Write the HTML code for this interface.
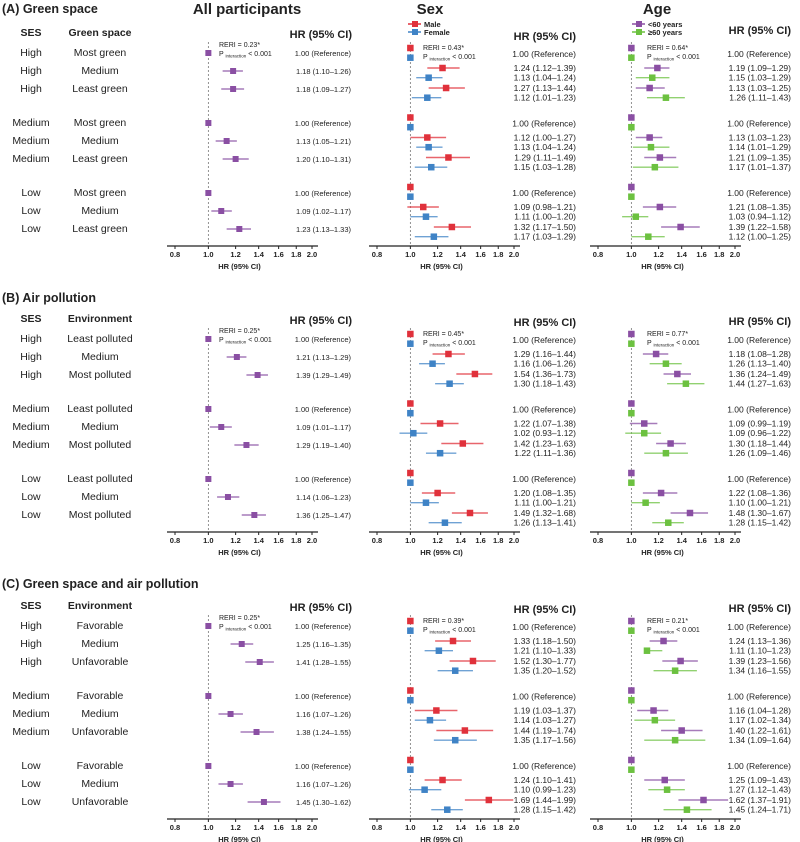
<!DOCTYPE html>
<html><head><meta charset="utf-8"><style>
body{margin:0;background:#fff;width:800px;height:842px;overflow:hidden}
svg{display:block;font-family:"Liberation Sans",sans-serif}
</style></head><body>
<svg id="chart" width="800" height="842" viewBox="0 0 800 842" xmlns="http://www.w3.org/2000/svg"></svg>
<script>
// ---------- data ----------
const sectionTitles = ["(A) Green space","(B) Air pollution","(C) Green space and air pollution"];
const envHeaders = ["Green space","Environment","Environment"];
const sesLabels = ["High","High","High","Medium","Medium","Medium","Low","Low","Low"];
const envLabelsA = ["Most green","Medium","Least green","Most green","Medium","Least green","Most green","Medium","Least green"];
const envLabelsB = ["Least polluted","Medium","Most polluted","Least polluted","Medium","Most polluted","Least polluted","Medium","Most polluted"];
const envLabelsC = ["Favorable","Medium","Unfavorable","Favorable","Medium","Unfavorable","Favorable","Medium","Unfavorable"];
const tickValues = [0.8,1.0,1.2,1.4,1.6,1.8,2.0];
const reriAll = ["0.23","0.25","0.25"];
const reriSex = ["0.43","0.45","0.39"];
const reriAge = ["0.64","0.77","0.21"];
// All participants [hr, lo, hi]
const allA_hr=[1,1.18,1.18,1,1.13,1.20,1,1.09,1.23], allA_lo=[1,1.10,1.09,1,1.05,1.10,1,1.02,1.13], allA_hi=[1,1.26,1.27,1,1.21,1.31,1,1.17,1.33];
const allB_hr=[1,1.21,1.39,1,1.09,1.29,1,1.14,1.36], allB_lo=[1,1.13,1.29,1,1.01,1.19,1,1.06,1.25], allB_hi=[1,1.29,1.49,1,1.17,1.40,1,1.23,1.47];
const allC_hr=[1,1.25,1.41,1,1.16,1.38,1,1.16,1.45], allC_lo=[1,1.16,1.28,1,1.07,1.24,1,1.07,1.30], allC_hi=[1,1.35,1.55,1,1.26,1.55,1,1.26,1.62];
// Sex
const maleA_hr=[1,1.24,1.27,1,1.12,1.29,1,1.09,1.32], maleA_lo=[1,1.12,1.13,1,1.00,1.11,1,0.98,1.17], maleA_hi=[1,1.39,1.44,1,1.27,1.49,1,1.21,1.50];
const femA_hr=[1,1.13,1.12,1,1.13,1.15,1,1.11,1.17], femA_lo=[1,1.04,1.01,1,1.04,1.03,1,1.00,1.03], femA_hi=[1,1.24,1.23,1,1.24,1.28,1,1.20,1.29];
const maleB_hr=[1,1.29,1.54,1,1.22,1.42,1,1.20,1.49], maleB_lo=[1,1.16,1.36,1,1.07,1.23,1,1.08,1.32], maleB_hi=[1,1.44,1.73,1,1.38,1.63,1,1.35,1.68];
const femB_hr=[1,1.16,1.30,1,1.02,1.22,1,1.11,1.26], femB_lo=[1,1.06,1.18,1,0.93,1.11,1,1.00,1.13], femB_hi=[1,1.26,1.43,1,1.12,1.36,1,1.21,1.41];
const maleC_hr=[1,1.33,1.52,1,1.19,1.44,1,1.24,1.69], maleC_lo=[1,1.18,1.30,1,1.03,1.19,1,1.10,1.44], maleC_hi=[1,1.50,1.77,1,1.37,1.74,1,1.41,1.99];
const femC_hr=[1,1.21,1.35,1,1.14,1.35,1,1.10,1.28], femC_lo=[1,1.10,1.20,1,1.03,1.17,1,0.99,1.15], femC_hi=[1,1.33,1.52,1,1.27,1.56,1,1.23,1.42];
// Age
const youngA_hr=[1,1.19,1.13,1,1.13,1.21,1,1.21,1.39], youngA_lo=[1,1.09,1.03,1,1.03,1.09,1,1.08,1.22], youngA_hi=[1,1.29,1.25,1,1.23,1.35,1,1.35,1.58];
const oldA_hr=[1,1.15,1.26,1,1.14,1.17,1,1.03,1.12], oldA_lo=[1,1.03,1.11,1,1.01,1.01,1,0.94,1.00], oldA_hi=[1,1.29,1.43,1,1.29,1.37,1,1.12,1.25];
const youngB_hr=[1,1.18,1.36,1,1.09,1.30,1,1.22,1.48], youngB_lo=[1,1.08,1.24,1,0.99,1.18,1,1.08,1.30], youngB_hi=[1,1.28,1.49,1,1.19,1.44,1,1.36,1.67];
const oldB_hr=[1,1.26,1.44,1,1.09,1.26,1,1.10,1.28], oldB_lo=[1,1.13,1.27,1,0.96,1.09,1,1.00,1.15], oldB_hi=[1,1.40,1.63,1,1.22,1.46,1,1.21,1.42];
const youngC_hr=[1,1.24,1.39,1,1.16,1.40,1,1.25,1.62], youngC_lo=[1,1.13,1.23,1,1.04,1.22,1,1.09,1.37], youngC_hi=[1,1.36,1.56,1,1.28,1.61,1,1.43,1.91];
const oldC_hr=[1,1.11,1.34,1,1.17,1.34,1,1.27,1.45], oldC_lo=[1,1.10,1.16,1,1.02,1.09,1,1.12,1.24], oldC_hi=[1,1.23,1.55,1,1.34,1.64,1,1.43,1.71];

// ---------- drawing ----------
const svg=document.getElementById('chart');
const NS='http://www.w3.org/2000/svg';
function mk(tag,attrs,parent){const e=document.createElementNS(NS,tag);for(const k in attrs)e.setAttribute(k,attrs[k]);(parent||svg).appendChild(e);return e;}
function txt(x,y,s,size,opts,parent){opts=opts||{};const e=mk('text',{x:x,y:y,'font-size':size,'text-anchor':opts.anchor||'start','font-weight':opts.bold?'bold':'normal',fill:'#222'},parent);e.textContent=s;return e;}
const COL={purple:'#8a4fa3',red:'#e0313b',blue:'#3f83c6',green:'#6cc140'};
const panelX0=[175,377,598];
const W=137;
function xs(p,v){return panelX0[p]+(Math.log(v)-Math.log(0.8))/(Math.log(2.0)-Math.log(0.8))*W;}
function fmt(h,l,u){return h===1?'1.00 (Reference)':h.toFixed(2)+' ('+l.toFixed(2)+'\u2013'+u.toFixed(2)+')';}

const offs=[0,286,573];
const titleY=[13,302,588];
const envSets=[envLabelsA,envLabelsB,envLabelsC];
const allSets=[[allA_hr,allA_lo,allA_hi],[allB_hr,allB_lo,allB_hi],[allC_hr,allC_lo,allC_hi]];
const sexSets=[[[maleA_hr,maleA_lo,maleA_hi],[femA_hr,femA_lo,femA_hi]],[[maleB_hr,maleB_lo,maleB_hi],[femB_hr,femB_lo,femB_hi]],[[maleC_hr,maleC_lo,maleC_hi],[femC_hr,femC_lo,femC_hi]]];
const ageSets=[[[youngA_hr,youngA_lo,youngA_hi],[oldA_hr,oldA_lo,oldA_hi]],[[youngB_hr,youngB_lo,youngB_hi],[oldB_hr,oldB_lo,oldB_hi]],[[youngC_hr,youngC_lo,youngC_hi],[oldC_hr,oldC_lo,oldC_hi]]];

// column titles
let t=txt(247,14,'All participants',15,{anchor:'middle',bold:true});


t=txt(430,14,'Sex',15,{anchor:'middle',bold:true});


t=txt(657,14,'Age',15,{anchor:'middle',bold:true});



// legends
function legend(x,y,c,label,name){
  const g=mk('g',{});
  
  
  mk('line',{x1:x,y1:y,x2:x+13,y2:y,stroke:c,'stroke-width':1.5},g);
  mk('rect',{x:x+4,y:y-3,width:6,height:6,fill:c},g);
  txt(x+16,y+3,label,7.5,{bold:true},g);
}
legend(408,24,COL.red,'Male','legend-male');
legend(408,32,COL.blue,'Female','legend-female');
legend(632,24,COL.purple,'<60 years','legend-under-60');
legend(632,32,COL.green,'\u226560 years','legend-60-plus');

function axis(p,yAxis,g){
  const ag=mk('g',{},g);
  
  
  mk('line',{x1:panelX0[p]-8,y1:yAxis,x2:panelX0[p]+W+6,y2:yAxis,stroke:'#222','stroke-width':1.3},ag);
  tickValues.forEach(v=>{
    const x=xs(p,v);
    mk('line',{x1:x,y1:yAxis,x2:x,y2:yAxis+3,stroke:'#222','stroke-width':1},ag);
    txt(x,yAxis+11,v.toFixed(1),7.5,{anchor:'middle',bold:true},ag);
  });
  const lab=txt(panelX0[p]+W/2-4,yAxis+23,'HR  (95% CI)',7.5,{anchor:'middle',bold:true},ag);
  
  
}
function reri(x,y,val,g){
  txt(x,y,'RERI = '+val+'*',7,{},g);
  const p=mk('text',{x:x,y:y+9,'font-size':7,fill:'#222'},g);
  p.textContent='P ';
  const s=mk('tspan',{'font-size':4.5,dy:1.5},p);s.textContent='interaction';
  const s2=mk('tspan',{dy:-1.5},p);s2.textContent=' < 0.001';
}
function mark(p,y,h,l,u,c,sz,g,name){
  const m=mk('g',{},g);
  
  
  if(h!==1||l!==1){
    mk('line',{x1:xs(p,l),y1:y,x2:xs(p,u),y2:y,stroke:c,'stroke-width':1.4,'stroke-opacity':0.75},m);
  }
  mk('rect',{x:xs(p,h)-sz/2,y:y-sz/2,width:sz,height:sz,fill:c},m);
}

for(let s=0;s<3;s++){
  const o=offs[s];
  const sg=mk('g',{});
  
  
  const tt=txt(2,titleY[s],sectionTitles[s],12.5,{bold:true},sg);
  
  
  txt(31,o+36,'SES',10.5,{anchor:'middle',bold:true},sg);
  txt(100,o+36,envHeaders[s],10.5,{anchor:'middle',bold:true},sg);
  txt(352,o+38,'HR (95% CI)',11,{anchor:'end',bold:true},sg);
  txt(576,o+40,'HR (95% CI)',11,{anchor:'end',bold:true},sg);
  txt(791,o+34+(s===0?0:5),'HR (95% CI)',11,{anchor:'end',bold:true},sg);

  // panel 1
  const [hr,lo,hi]=allSets[s];
  const base1=o+53;
  mk('line',{x1:xs(0,1),y1:o+42,x2:xs(0,1),y2:o+245,stroke:'#777','stroke-width':0.8,'stroke-dasharray':'2,2'},sg);
  for(let i=0;i<9;i++){
    const g=Math.floor(i/3),r=i%3;
    const y=base1+g*70+r*18;
    txt(31,y+3,sesLabels[i],10.5,{anchor:'middle'},sg);
    txt(100,y+3,envSets[s][i],10.5,{anchor:'middle'},sg);
    mark(0,y,hr[i],lo[i],hi[i],COL.purple,6,sg,'all-marker');
    txt(351,y+3,fmt(hr[i],lo[i],hi[i]),7.5,{anchor:'end'},sg);
  }
  reri(219,o+47,reriAll[s],sg);
  axis(0,o+246,sg);

  // panels 2 and 3
  [[sexSets[s],1,[COL.red,COL.blue],reriSex[s],423,576,'sex'],[ageSets[s],2,[COL.purple,COL.green],reriAge[s],647,791,'age']].forEach(cfg=>{
    const [sets,p,cols,rv,rx,tx,nm]=cfg;
    const base=o+48;
    mk('line',{x1:xs(p,1),y1:o+42,x2:xs(p,1),y2:o+245,stroke:'#777','stroke-width':0.8,'stroke-dasharray':'2,2'},sg);
    for(let i=0;i<9;i++){
      const g=Math.floor(i/3),r=i%3;
      const y0=base+g*69.5+r*20;
      for(let k=0;k<2;k++){
        const y=y0+k*9.7;
        const d=sets[k];
        mark(p,y,d[0][i],d[1][i],d[2][i],cols[k],6.5,sg,nm+'-marker-'+k);
        if(r>0) txt(tx,y+3,fmt(d[0][i],d[1][i],d[2][i]),8.5,{anchor:'end'},sg);
      }
      if(r===0) txt(tx,y0+9,'1.00 (Reference)',8.5,{anchor:'end'},sg);
    }
    reri(rx,o+50,rv,sg);
    axis(p,o+246,sg);
  });
}
</script>
</body></html>
